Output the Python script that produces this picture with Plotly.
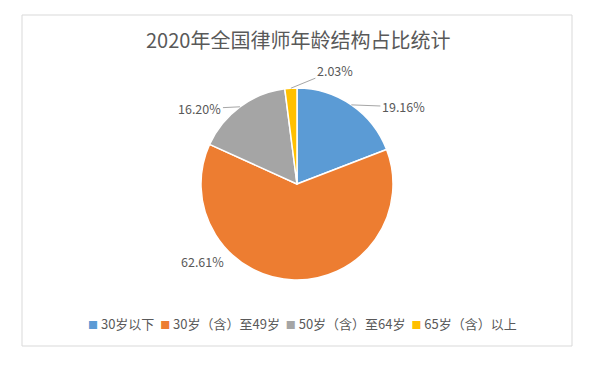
import math
import plotly.graph_objects as go

categories = ["30岁以下", "30岁（含）至49岁", "50岁（含）至64岁", "65岁（含）以上"]
values = [19.16, 62.61, 16.20, 2.03]
colors = ["#5B9BD5", "#ED7D31", "#A5A5A5", "#FFC000"]
title_text = "2020年全国律师年龄结构占比统计"

W, H = 600, 368
cx, cy, R = 297, 184, 96  # pie centre / radius in pixels

fig = go.Figure(go.Pie(
    labels=categories, values=values, sort=False, direction="clockwise",
    rotation=0, marker=dict(colors=colors, line=dict(color="white", width=1.5)),
    textinfo="none", hoverinfo="label+percent", showlegend=False,
    domain=dict(x=[(cx - R) / W, (cx + R) / W], y=[1 - (cy + R) / H, 1 - (cy - R) / H]),
))

# data labels with leader lines, positioned from slice mid-angles
label_offsets = [(52, 2), (-92, -7), (-40, 2), (44, -18)]  # text-centre offsets in px
label_arrow = [True, False, True, True]
total = sum(values)
cum = 0
for v, (dx, dy), arr in zip(values, label_offsets, label_arrow):
    mid = (cum + v / 2) / total * 2 * math.pi
    cum += v
    px = cx + R * math.sin(mid)
    py = cy - R * math.cos(mid)
    if arr:
        fig.add_annotation(
            x=px / W, y=1 - py / H, xref="paper", yref="paper",
            text=f"{v:.2f}%", showarrow=True, arrowhead=0, arrowwidth=1,
            arrowcolor="#A6A6A6", ax=dx, ay=dy, standoff=0,
            font=dict(size=12.5, color="#595959"),
        )
    else:
        fig.add_annotation(
            x=(px + dx) / W, y=1 - (py + dy) / H, xref="paper", yref="paper",
            text=f"{v:.2f}%", showarrow=False, font=dict(size=12.5, color="#595959"),
        )

# legend row (compact, Excel-like)
legend_parts = [
    f"<span style='color:{c};font-size:10px'>■</span> {lab}"
    for c, lab in zip(colors, categories)
]
fig.add_annotation(
    x=302 / W, y=1 - 323 / H, xref="paper", yref="paper", showarrow=False,
    text="  ".join(legend_parts), font=dict(size=13, color="#595959"),
    xanchor="center", yanchor="middle",
)

fig.add_shape(type="rect", xref="paper", yref="paper",
              x0=22 / W, x1=572 / W, y0=1 - 346 / H, y1=1 - 15 / H,
              line=dict(color="#D9D9D9", width=1))

fig.update_layout(
    width=W, height=H, margin=dict(l=0, r=0, t=0, b=0),
    paper_bgcolor="white", plot_bgcolor="white",
    font=dict(family="Noto Sans CJK SC, Noto Sans, sans-serif", color="#595959"),
    title=dict(text=title_text, x=0.497, xanchor="center", y=1 - 41 / H, yanchor="middle",
               font=dict(size=20, color="#595959")),
    showlegend=False,
)

fig.write_html("out.html", config={"displayModeBar": False},
               post_script="document.body.style.margin='0';")
